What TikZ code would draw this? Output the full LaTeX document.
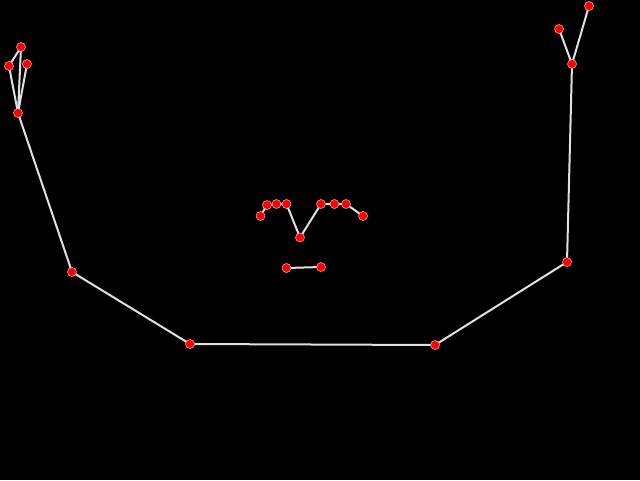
\documentclass[tikz,border=0pt]{standalone}
\begin{document}
\begin{tikzpicture}[x=1pt,y=-1pt,
  bone/.style={draw=black!12, line width=2pt},
  joint/.style={circle, fill=red, draw=white!70!red, line width=0.5pt, inner sep=0pt, minimum size=9pt}]
\fill[black] (0,0) rectangle (640,480);
\useasboundingbox (0,0) rectangle (640,480);
% body
\coordinate (lwr) at (18,113);
\coordinate (lf1) at (21,47);
\coordinate (lf2) at (9,66);
\coordinate (lf3) at (27,64);
\coordinate (lel) at (72,272);
\coordinate (lsh) at (190,344);
\coordinate (rsh) at (435,345);
\coordinate (rel) at (567,262);
\coordinate (rwr) at (572,64);
\coordinate (rf1) at (589,6);
\coordinate (rf2) at (559,29);
% face
\coordinate (f1) at (260.5,216);
\coordinate (f2) at (267,205);
\coordinate (f3) at (276.5,204);
\coordinate (f4) at (286.5,204);
\coordinate (f5) at (300,237.5);
\coordinate (f6) at (321,204);
\coordinate (f7) at (334.5,204);
\coordinate (f8) at (346,204);
\coordinate (f9) at (363,216);
\coordinate (m1) at (286.5,268);
\coordinate (m2) at (321,267);
\draw[bone] (lf2) -- (lf1) -- (lwr) -- (lf3);
\draw[bone] (lf2) -- (lwr) -- (lel) -- (lsh) -- (rsh) -- (rel) -- (rwr) -- (rf1);
\draw[bone] (rwr) -- (rf2);
\draw[bone] (f1) -- (f2) -- (f3) -- (f4) -- (f5) -- (f6) -- (f7) -- (f8) -- (f9);
\draw[bone] (m1) -- (m2);
\foreach \p in {lwr,lf1,lf2,lf3,lel,lsh,rsh,rel,rwr,rf1,rf2,f1,f2,f3,f4,f5,f6,f7,f8,f9,m1,m2}
  \node[joint] (n\p) at (\p) {};
\end{tikzpicture}
\end{document}
